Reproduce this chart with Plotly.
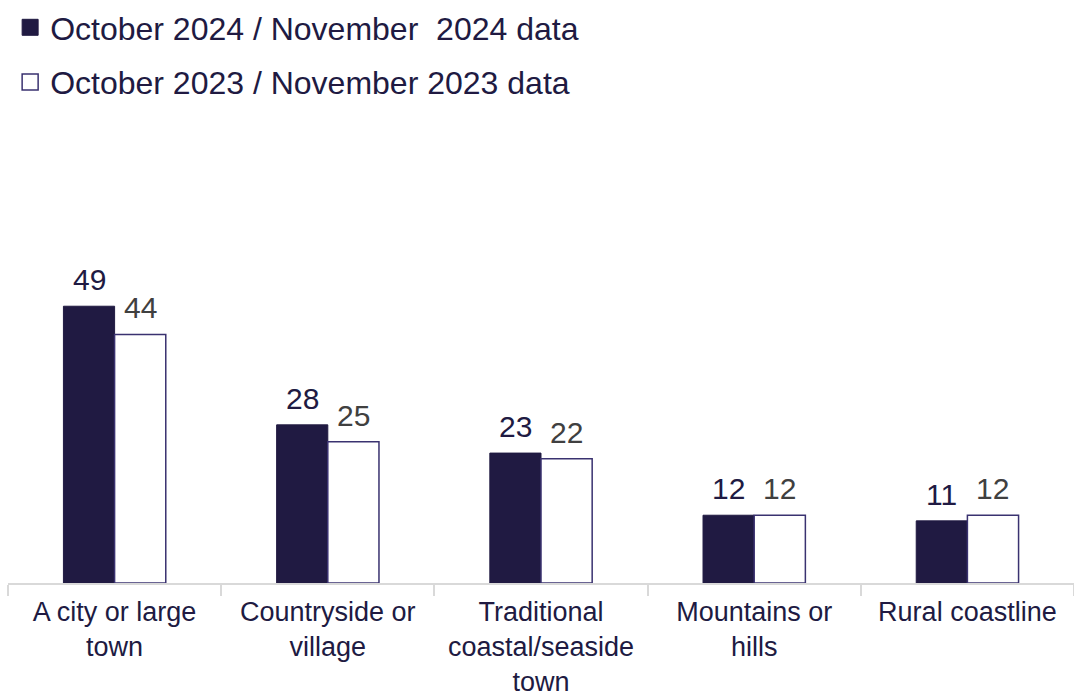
import plotly.graph_objects as go

# Category labels along the x axis (line breaks as printed)
categories = [
    "A city or large<br>town",
    "Countryside or<br>village",
    "Traditional<br>coastal/seaside<br>town",
    "Mountains or<br>hills",
    "Rural coastline",
]

# Share of respondents (%) per destination type
values_2024 = [49, 28, 23, 12, 11]
values_2023 = [44, 25, 22, 12, 12]

series_names = [
    "October 2024 / November  2024 data",
    "October 2023 / November 2023 data",
]

DARK = "#201a42"
OUTLINE = "#3a3270"
LABEL_GREY = "#404040"
FONT = "Liberation Sans, Arial, sans-serif"

fig = go.Figure()

fig.add_trace(go.Bar(
    x=categories, y=values_2024, name=series_names[0],
    marker=dict(color=DARK, line=dict(color=DARK, width=1)),
    showlegend=False,
))
fig.add_trace(go.Bar(
    x=categories, y=values_2023, name=series_names[1],
    marker=dict(color="white", line=dict(color=OUTLINE, width=1.5)),
    showlegend=False,
))

# Legend keys drawn as larger squares than the default bar swatch
fig.add_trace(go.Scatter(
    x=[None], y=[None], mode="markers", name=series_names[0],
    marker=dict(symbol="square", size=18, color=DARK,
                line=dict(color=DARK, width=1)),
    legendgroup="a",
))
fig.add_trace(go.Scatter(
    x=[None], y=[None], mode="markers", name=series_names[1],
    marker=dict(symbol="square", size=18, color="white",
                line=dict(color=OUTLINE, width=1.5)),
    legendgroup="b",
))

# Value labels sitting above each bar
bar_px = 51
for cat, v in zip(categories, values_2024):
    fig.add_annotation(x=cat, y=v, text=str(v), showarrow=False,
                       xshift=-bar_px / 2, yshift=8, yanchor="bottom",
                       font=dict(family=FONT, size=30, color=DARK))
for cat, v in zip(categories, values_2023):
    fig.add_annotation(x=cat, y=v, text=str(v), showarrow=False,
                       xshift=bar_px / 2, yshift=8, yanchor="bottom",
                       font=dict(family=FONT, size=30, color=LABEL_GREY))

fig.update_layout(
    width=1074, height=698,
    margin=dict(l=8, r=0, t=130, b=115),
    paper_bgcolor="white", plot_bgcolor="white",
    barmode="group", bargap=0.52, bargroupgap=0,
    font=dict(family=FONT, size=27, color=DARK),
    showlegend=True,
    legend=dict(
        x=0.002, y=1, xref="paper", yref="container",
        xanchor="left", yanchor="top",
        orientation="v", tracegroupgap=10, itemsizing="trace",
        font=dict(family=FONT, size=32, color=DARK),
        bgcolor="rgba(0,0,0,0)",
    ),
)

fig.update_xaxes(
    showline=True, linecolor="#d9d9d9", linewidth=1.5,
    ticks="outside", tickson="boundaries", ticklen=11,
    tickcolor="#d9d9d9", tickwidth=1.5,
    tickfont=dict(family=FONT, size=27, color=DARK),
    ticklabelstandoff=4, automargin=False,
    showgrid=False, fixedrange=True,
)
fig.update_yaxes(
    range=[0, 80.2], visible=False, showgrid=False, zeroline=False,
    fixedrange=True,
)

fig.write_html("out.html")
